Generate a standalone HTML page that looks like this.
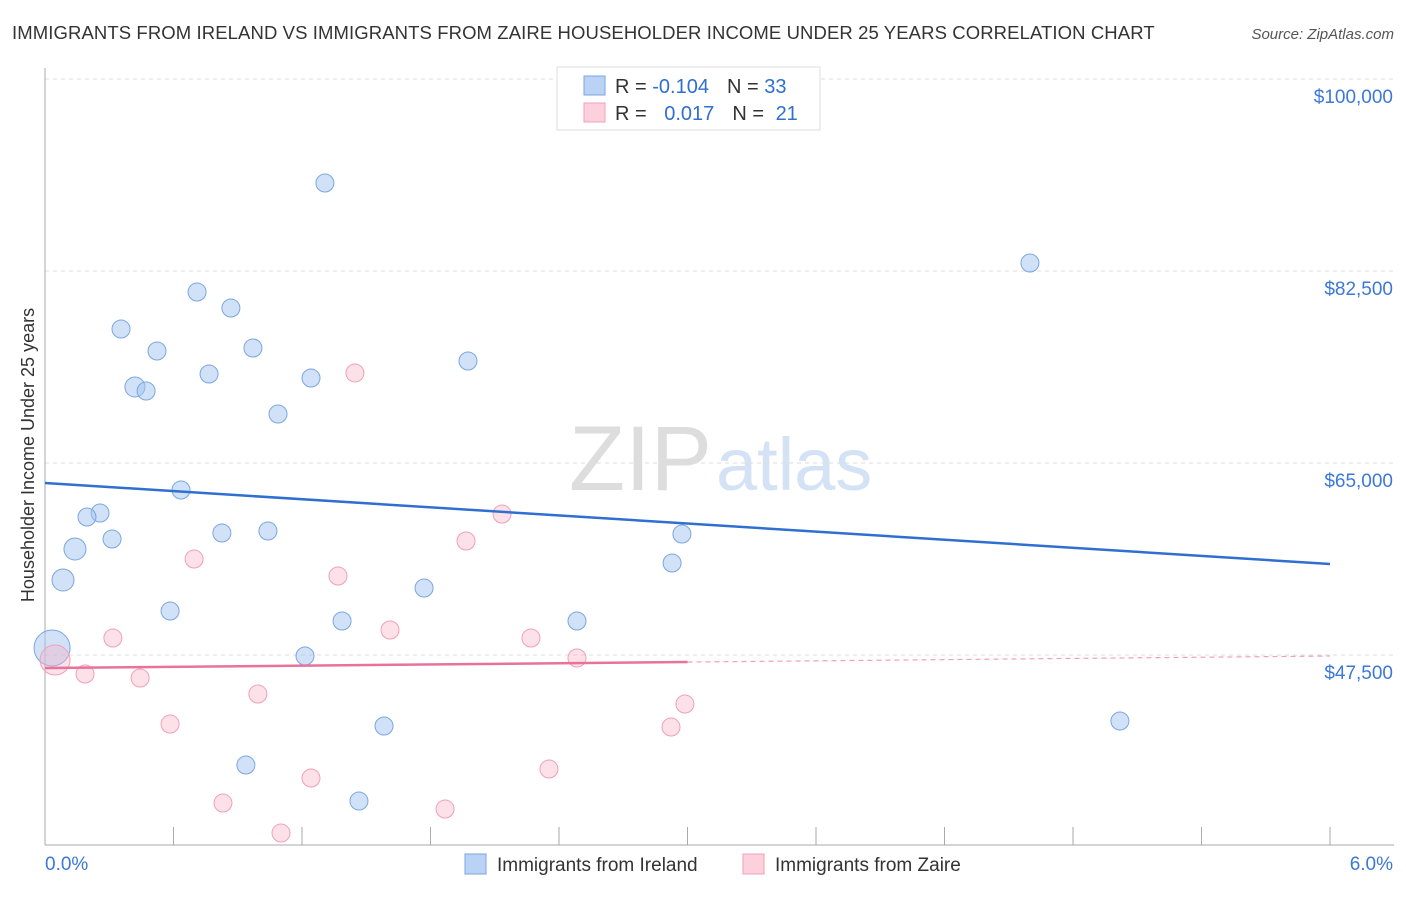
<!DOCTYPE html>
<html><head><meta charset="utf-8"><style>
body{margin:0;background:#fff;font-family:"Liberation Sans",sans-serif}
svg text{font-family:"Liberation Sans",sans-serif}
</style></head><body>
<svg id="c" width="1406" height="892">
<text x="12" y="39" font-size="18.5" fill="#333" letter-spacing="0.1">IMMIGRANTS FROM IRELAND VS IMMIGRANTS FROM ZAIRE HOUSEHOLDER INCOME UNDER 25 YEARS CORRELATION CHART</text>
<text x="1394" y="39" font-size="15" fill="#555" font-style="italic" text-anchor="end">Source: ZipAtlas.com</text>
<text x="712" y="490" font-size="92" fill="#ddd" font-family="Liberation Serif" text-anchor="end">ZIP</text>
<text x="716" y="490" font-size="74" fill="#d3e2f5">atlas</text>
<text transform="translate(34,455) rotate(-90)" font-size="18" fill="#333" text-anchor="middle">Householder Income Under 25 years</text>
<g id="grid"></g><g id="marks"></g>
<g>
<rect x="557" y="67" width="263" height="63" fill="#fff" stroke="#ddd"/>
<rect x="584" y="76" width="21" height="19" fill="#b9d2f5" stroke="#7aa7e0"/>
<rect x="584" y="103" width="21" height="19" fill="#fcd0dc" stroke="#f0a0b8"/>
<text x="615" y="93" font-size="20" fill="#333">R = <tspan fill="#2f6fd0">-0.104</tspan><tspan dx="18">N = </tspan><tspan fill="#2f6fd0">33</tspan></text>
<text x="615" y="120" font-size="20" fill="#333">R = <tspan fill="#2f6fd0" dx="12">0.017</tspan><tspan dx="18">N = </tspan><tspan fill="#2f6fd0" dx="6">21</tspan></text>
</g>
<g>
<rect x="465" y="854" width="21" height="20" fill="#b9d2f5" stroke="#7aa7e0"/>
<text x="497" y="871" font-size="19" fill="#333">Immigrants from Ireland</text>
<rect x="743" y="854" width="21" height="20" fill="#fcd0dc" stroke="#f0a0b8"/>
<text x="775" y="871" font-size="19" fill="#333">Immigrants from Zaire</text>
</g>
<text x="45" y="870" font-size="19" fill="#3c78d8">0.0%</text>
<text x="1393" y="870" font-size="19" fill="#3c78d8" text-anchor="end">6.0%</text>
</svg>
<script>
const yTicks=[100000,82500,65000,47500];
const yTickLabels=["$100,000","$82,500","$65,000","$47,500"];
const blueX=[1.307,4.599,0.710,0.868,0.355,0.523,0.971,1.975,0.766,1.242,0.420,0.472,1.088,0.635,0.257,0.196,0.313,0.140,0.826,1.041,2.974,2.928,0.084,0.584,1.770,1.387,2.484,1.214,0.033,1.583,5.019,0.938,1.466];
const blueY=[90520,83228,80585,79127,77213,75207,75481,74296,73111,72746,71926,71561,69465,62537,60441,60076,58071,57159,58618,58800,58527,55884,54334,51508,53605,50597,50597,47407,48136,41026,41482,37471,34190];
const blueR=[9,9,9,9,9,9,9,9,9,9,10,9,9,9,9,9,9,11,9,9,9,9,11,9,9,9,9,9,18,9,9,9,9];
const pinkX=[1.447,2.134,1.966,0.696,1.368,1.611,0.317,2.269,2.484,0.047,0.187,0.444,0.994,2.988,0.584,2.923,2.353,1.242,0.831,1.868,1.102];
const pinkY=[73202,60350,57889,56248,54698,49776,49047,49047,47224,47042,45766,45401,43943,43031,41208,40934,37106,36286,34007,33460,31273];
const pinkR=[9,9,9,9,9,9,9,9,9,15,9,9,9,9,9,9,9,9,9,9,9];
const blueTrend=[63176,55793];
const pinkTrend=[46312,47407];
const NS="http://www.w3.org/2000/svg";
const X=v=>45+v/6*1285, Y=v=>79+(100000-v)/17500*192;
function mk(t,a,p){const e=document.createElementNS(NS,t);for(const k in a)e.setAttribute(k,a[k]);p.appendChild(e);return e;}
const g=document.getElementById('grid'),m=document.getElementById('marks');
yTicks.forEach((v,i)=>{
 const l=mk('line',{x1:45,x2:1394,y1:Y(v),y2:Y(v),stroke:'#ddd','stroke-dasharray':'4,4'},g);
 
 
 const t=mk('text',{x:1393,y:Y(v)+24,'font-size':19,fill:'#3c78d8','text-anchor':'end'},g);t.textContent=yTickLabels[i];
 
 
});
mk('line',{x1:45,x2:45,y1:68,y2:845,stroke:'#aaa'},g);
mk('line',{x1:45,x2:1394,y1:845,y2:845,stroke:'#aaa'},g);
for(let i=1;i<=10;i++){const tk=mk('line',{x1:X(i*0.6),x2:X(i*0.6),y1:827,y2:845,stroke:'#aaa'},g);
 
 }
blueX.forEach((x,i)=>{const c=mk('circle',{cx:X(x),cy:Y(blueY[i]),r:blueR[i],fill:'rgba(164,196,240,0.5)',stroke:'#7aa7e0','stroke-width':1},m);
 
 });
pinkX.forEach((x,i)=>{const c=mk('circle',{cx:X(x),cy:Y(pinkY[i]),r:pinkR[i],fill:'rgba(248,180,200,0.4)',stroke:'#f0a0b8','stroke-width':1},m);
 
 });
const bl=mk('line',{x1:X(0),x2:X(6),y1:Y(blueTrend[0]),y2:Y(blueTrend[1]),stroke:'#2f6fd0','stroke-width':2.5},m);


const pm=pinkTrend[0]+(pinkTrend[1]-pinkTrend[0])*0.5;
const pl=mk('line',{x1:X(0),x2:X(3),y1:Y(pinkTrend[0]),y2:Y(pm),stroke:'#e8729a','stroke-width':2.5},m);


const pd=mk('line',{x1:X(3),x2:X(6),y1:Y(pm),y2:Y(pinkTrend[1]),stroke:'#f0a0b8','stroke-width':1.2,'stroke-dasharray':'5,4'},m);


</script>
</body></html>
